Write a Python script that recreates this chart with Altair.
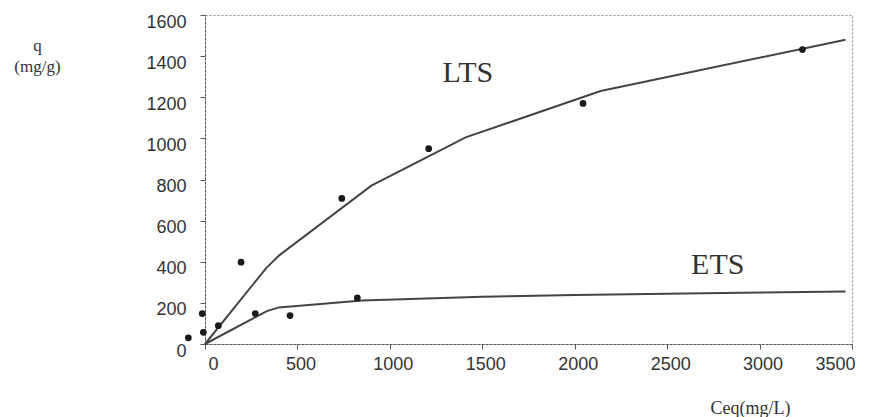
import altair as alt
import pandas as pd

# Experimental points
pt_ceq = [-90, -15, -9, 72, 195, 272, 460, 740, 824, 1210, 2045, 3232]
pt_q = [30, 148, 57, 89, 398, 148, 138, 708, 224, 950, 1170, 1432]

# LTS fitted curve
lts_ceq = [0, 330, 400, 900, 1410, 2140, 3465]
lts_q = [0, 368, 430, 770, 1005, 1230, 1480]

# ETS fitted curve
ets_ceq = [0, 335, 400, 850, 1500, 2000, 2800, 3465]
ets_q = [0, 160, 178, 212, 230, 238, 248, 255]

# Curve labels
lab_text = ["LTS", "ETS"]
lab_ceq = [1422, 2774]
lab_q = [1320, 386]

x_ticks = [0, 500, 1000, 1500, 2000, 2500, 3000, 3500]
y_ticks = [0, 200, 400, 600, 800, 1000, 1200, 1400, 1600]

df_pts = pd.DataFrame({"ceq": pt_ceq, "q": pt_q})
df_lines = pd.concat([
    pd.DataFrame({"ceq": lts_ceq, "q": lts_q, "series": "LTS"}),
    pd.DataFrame({"ceq": ets_ceq, "q": ets_q, "series": "ETS"}),
])
df_lab = pd.DataFrame({"text": lab_text, "ceq": lab_ceq, "q": lab_q})

xscale = alt.Scale(domain=[0, 3500], nice=False, zero=False)
yscale = alt.Scale(domain=[0, 1600], nice=False)

xaxis = alt.Axis(
    values=x_ticks, format="d", grid=False, labelFont="Liberation Sans", labelFontSize=18,
    labelColor="#333", tickColor="#555", tickSize=5, labelPadding=6, labelOffset=3,
    domainColor="#555", domainDash=[3, 1],
    title="Ceq(mg/L)", titleFont="Liberation Serif", titleFontSize=18,
    titleFontWeight="normal", titleColor="#333", titleX=545, titleY=64,
    titleAlign="center", titleBaseline="middle",
)
yaxis = alt.Axis(
    values=y_ticks, format="d", grid=False, labelFont="Liberation Sans", labelFontSize=18,
    labelColor="#333", tickColor="#555", tickSize=5, labelPadding=14, labelOffset=7,
    domainColor="#555", domainDash=[3, 1],
    title=["q", "(mg/g)"], titleAngle=0, titleFont="Liberation Serif",
    titleFontSize=17, titleFontWeight="normal", titleColor="#333",
    titleX=-168, titleY=22, titleAlign="center", titleBaseline="top",
    titleLineHeight=21,
)

lines = alt.Chart(df_lines).mark_line(color="#444", strokeWidth=2).encode(
    x=alt.X("ceq:Q", scale=xscale, axis=xaxis),
    y=alt.Y("q:Q", scale=yscale, axis=yaxis),
    detail="series:N",
)

points = alt.Chart(df_pts).mark_circle(size=45, color="#1a1a1a", opacity=1).encode(
    x=alt.X("ceq:Q", scale=xscale),
    y=alt.Y("q:Q", scale=yscale),
)

labels = alt.Chart(df_lab).mark_text(
    font="Liberation Serif", fontSize=30, color="#333", align="center", baseline="middle"
).encode(
    x=alt.X("ceq:Q", scale=xscale),
    y=alt.Y("q:Q", scale=yscale),
    text="text:N",
)

chart = alt.layer(lines, points, labels).properties(
    width=647, height=329,
    padding={"left": 197, "top": 7, "right": 24, "bottom": 73},
    autosize=alt.AutoSizeParams(type="none"),
).configure_view(stroke="#888", strokeDash=[2, 2], strokeWidth=1)

chart.save("out.html", embed_options={"renderer": "svg", "actions": False})
